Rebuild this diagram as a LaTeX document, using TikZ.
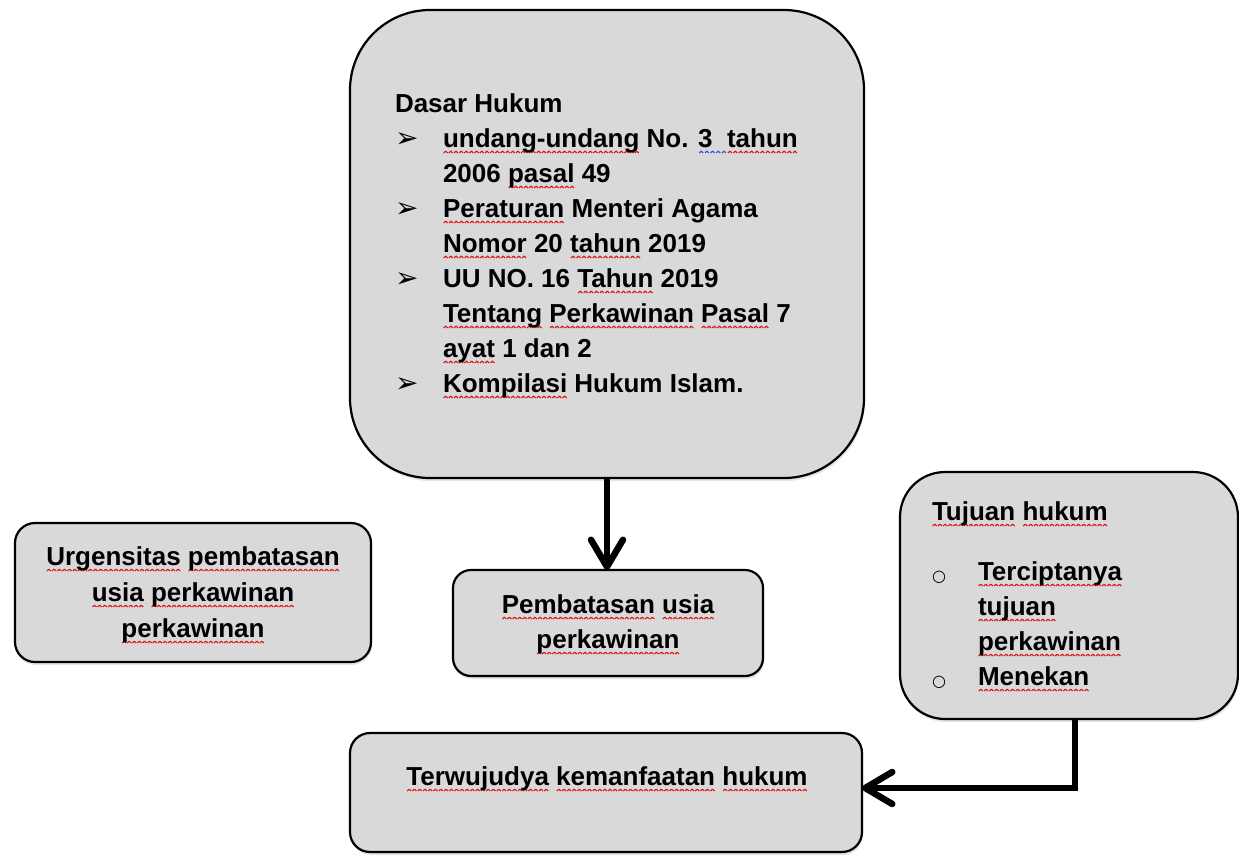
\documentclass[tikz,border=0pt]{standalone}
\usepackage{fontspec}
\setmainfont{Liberation Sans}
\newfontfamily\dejavu{DejaVu Sans}
\usetikzlibrary{arrows.meta,shadows}
\definecolor{boxgray}{HTML}{D9D9D9}
\definecolor{wavered}{HTML}{E01010}
\definecolor{waveblue}{HTML}{3050E0}
\newsavebox\redwave
\newsavebox\bluewave
\newsavebox\sqtmp
\newcommand\makewave[2]{\sbox#1{\begin{pgfpicture}%
  \pgfpathmoveto{\pgfpoint{0pt}{0.5pt}}\pgfpathlineto{\pgfpoint{2pt}{2.3pt}}\pgfpathlineto{\pgfpoint{4pt}{0.5pt}}%
  \pgfsetlinewidth{1.1pt}\pgfsetroundjoin\pgfsetstrokecolor{#2}\pgfusepath{stroke}%
  \pgfpathrectangle{\pgfpointorigin}{\pgfpoint{4pt}{2.8pt}}\pgfusepath{use as bounding box}%
  \end{pgfpicture}}}
\newcommand\sq[1]{\sbox\sqtmp{#1}\rlap{\raisebox{-6.5pt}{\hbox to \wd\sqtmp{\xleaders\copy\redwave\hfil}}}\usebox\sqtmp}
\newcommand\sqb[1]{\sbox\sqtmp{#1}\rlap{\raisebox{-6.5pt}{\hbox to \wd\sqtmp{\xleaders\copy\bluewave\hfil}}}\usebox\sqtmp}
\newcommand\bul{\makebox[48pt][l]{\hspace{0pt}{\dejavu\mdseries\fontsize{28}{28}\selectfont ➢}}}
\newcommand\cbul{\makebox[46pt][l]{\hspace{0pt}\raisebox{-1.5pt}{\dejavu\mdseries\fontsize{16}{16}\selectfont ○}}}
\begin{document}
\makewave\redwave{wavered}%
\makewave\bluewave{waveblue}%
\begin{tikzpicture}[x=1pt,y=-1pt,
  box/.style={draw=black, line width=2.2pt, fill=boxgray, inner sep=0pt, outer sep=0pt,
    drop shadow={shadow xshift=1pt, shadow yshift=-3pt, opacity=0.2}},
  txt/.style={inner sep=0pt, outer sep=0pt, font=\bfseries\fontsize{26}{35}\selectfont},
  conn/.style={line width=6.5pt, -{Straight Barb[length=27pt,width=32pt,line cap=round,line join=round]}}]
\useasboundingbox (0,0) rectangle (1239,855);
\fill[white] (0,0) rectangle (1239,855);
% boxes
\node[box, minimum width=514pt, minimum height=468pt, rounded corners=80pt] (dasar) at (607,244) {};
\node[box, minimum width=356pt, minimum height=139pt, rounded corners=20pt] (urg) at (193,592.5) {};
\node[box, minimum width=310pt, minimum height=106pt, rounded corners=18pt] (pemb) at (608,623) {};
\node[box, minimum width=338pt, minimum height=247pt, rounded corners=45pt] (tujuan) at (1069,595.5) {};
\node[box, minimum width=512pt, minimum height=119pt, rounded corners=20pt] (terw) at (606,792.5) {};
% texts
\node[txt, anchor=base west] (dasartxt) at (395,112) {\begin{tabular}[t]{@{}l@{}l@{}}
\multicolumn{2}{@{}l@{}}{Dasar Hukum}\\
\bul & \sq{undang-undang} No. \sqb{3\ \ }\sq{tahun}\\
 & 2006 \sq{pasal} 49\\
\bul & \sq{Peraturan} Menteri Agama\\
 & \sq{Nomor} 20 \sq{tahun} 2019\\
\bul & UU NO. 16 \sq{Tahun} 2019\\
 & \sq{Tentang} \sq{Perkawinan} \sq{Pasal} 7\\
 & \sq{ayat} 1 dan 2\\
\bul & \sq{Kompilasi} Hukum Islam.
\end{tabular}};
\node[txt, anchor=base west] (tujtxt) at (932,520) {\begin{tabular}[t]{@{}l@{}l@{}}
\multicolumn{2}{@{}l@{}}{\sq{Tujuan} \sq{hukum}}\\[25pt]
\cbul & \sq{Terciptanya}\\
 & \sq{tujuan}\\
 & \sq{perkawinan}\\
\cbul & \sq{Menekan}
\end{tabular}};
\node[txt, anchor=base] (urgtxt) at (193,565) {\fontsize{26}{36}\selectfont\begin{tabular}[t]{@{}c@{}}
\sq{Urgensitas} \sq{pembatasan}\\
\sq{usia} \sq{perkawinan}\\
\sq{perkawinan}
\end{tabular}};
\node[txt, anchor=base] (pembtxt) at (608,613) {\begin{tabular}[t]{@{}c@{}}
\sq{Pembatasan} \sq{usia}\\
\sq{perkawinan}
\end{tabular}};
\node[txt, anchor=base] (terwtxt) at (607,785) {\sq{Terwujudya} \sq{kemanfaatan} \sq{hukum}};
% connectors
\draw[conn] (dasar.south) -- (dasar.south |- pemb.north);
\draw[conn] ([xshift=6pt]tujuan.south) |- ([yshift=4.5pt]terw.east);
\end{tikzpicture}
\end{document}
